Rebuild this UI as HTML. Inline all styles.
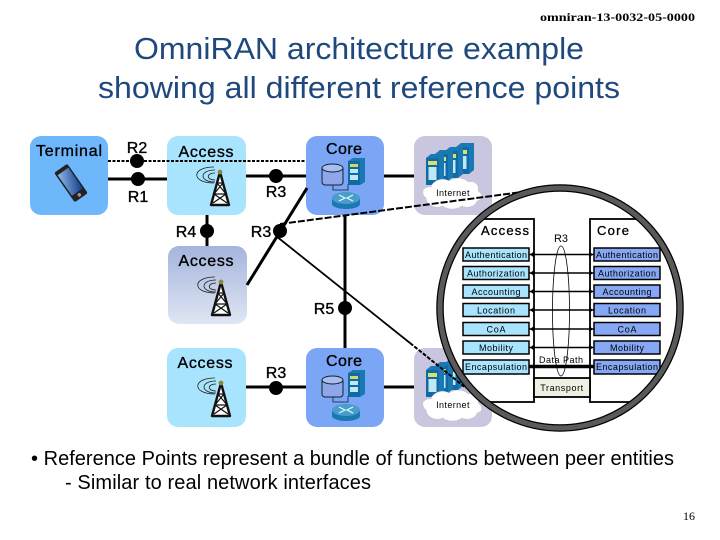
<!DOCTYPE html>
<html><head><meta charset="utf-8"><style>
html,body{margin:0;padding:0;background:#fff}
svg{display:block}
text{font-family:"Liberation Sans",sans-serif}
.n{font-size:16px;text-anchor:middle;fill:#000;stroke:#000;stroke-width:.35}
.s{font-size:9px;text-anchor:middle;fill:#000}
</style></head><body>
<svg width="720" height="540" viewBox="0 0 720 540" xmlns="http://www.w3.org/2000/svg">
<defs>
<linearGradient id="g" x1="0" y1="0" x2="0" y2="1"><stop offset="0" stop-color="#a4b5dc"/><stop offset="1" stop-color="#dfe5f3"/></linearGradient>
<linearGradient id="ph" x1="0" y1="0" x2="1" y2="1"><stop offset="0" stop-color="#8fb8e8"/><stop offset="1" stop-color="#123a8a"/></linearGradient>
<g id="tower">
<path d="M-6 -12C-29 -12 -29 4 -6 4M-5 -9C-21 -9 -21 3 -5 3M-5 -6C-14 -6 -14 1 -5 1" fill="none" stroke="#222" stroke-width=".8"/>
<path d="M0 -7L-9 26H9Z" fill="#fff" stroke="#111" stroke-width="2.4" stroke-linejoin="round"/>
<path d="M-3 4L6 15L-7 24M3 4L-6 15L7 24M-3 4H3M-6 15H6" fill="none" stroke="#111" stroke-width="1.2"/>
<circle cx="0" cy="-7" r="2.4" fill="#8a8a3a"/>
</g>
<g id="srv"><path d="M0 4L5 0H18V27L13 31H0Z" fill="#1a78b4"/><path d="M0 4H13V31H0Z" fill="#0f6aa6"/><rect x="2" y="7" width="9" height="4" fill="#d8e070"/><rect x="2.500" y="13" width="8" height="13" fill="#bfe8f4"/></g>
<g id="core">
<rect x="16" y="30" width="21" height="19" rx="3" fill="#8fa7e8" stroke="#123" stroke-width="1"/>
<ellipse cx="26.500" cy="32" rx="10.500" ry="4" fill="#a9bdf0" stroke="#123" stroke-width="1"/>
<path d="M27 49V54H42V48" fill="none" stroke="#123" stroke-width=".8"/>
<path d="M42 25L47 22H59V46L54 49H42Z" fill="#1a78b4"/><rect x="42" y="25" width="12" height="24" fill="#0f6aa6"/>
<rect x="44" y="28" width="8" height="3" fill="#d8d860"/><rect x="44" y="33" width="8" height="4" fill="#bfe8f4"/><rect x="44" y="39" width="8" height="5" fill="#bfe8f4"/>
<rect x="26" y="62" width="28" height="6" fill="#1a78b4"/><ellipse cx="40" cy="68" rx="14" ry="5" fill="#1a78b4"/><ellipse cx="40" cy="62" rx="14" ry="6" fill="#4a9ccb"/>
<path d="M33 59L39 62L33 65M47 59L41 62L47 65" fill="none" stroke="#dff" stroke-width="1.200"/>
</g>
<g id="inet">
<rect x="0" y="0" width="78" height="79" rx="11" fill="#c9c6e0"/>
<use href="#srv" x="42" y="7"/><use href="#srv" x="31" y="11"/><use href="#srv" x="21" y="14"/><use href="#srv" x="12" y="18"/>
<path d="M12 62c-6-5-3-12 5-11c2-7 12-10 18-6c5-4 15-4 19 1c6-2 12 3 10 9c5 3 5 9-1 10c-1 5-9 8-15 5c-6 4-14 4-19 0c-7 3-16 0-17-8Z" fill="#fff" stroke="#bbb" stroke-width=".6" stroke-dasharray="1.500 1"/>
<text x="39" y="60" class="s" style="letter-spacing:.4px">Internet</text>
</g>
<clipPath id="circ"><circle cx="560" cy="308" r="120"/></clipPath>
</defs>

<text x="695" y="21" text-anchor="end" style="font-family:'Liberation Serif',serif;font-size:12px;font-weight:bold" textLength="155" lengthAdjust="spacingAndGlyphs">omniran-13-0032-05-0000</text>
<text x="359" y="59" text-anchor="middle" fill="#1f497d" font-size="31" textLength="450" lengthAdjust="spacingAndGlyphs">OmniRAN architecture example</text>
<text x="359" y="98" text-anchor="middle" fill="#1f497d" font-size="31" textLength="522" lengthAdjust="spacingAndGlyphs">showing all different reference points</text>

<rect x="30" y="136" width="78" height="79" rx="11" fill="#6fb7fb"/>
<rect x="167" y="136" width="79" height="79" rx="11" fill="#a9e4fe"/>
<rect x="306" y="136" width="78" height="79" rx="11" fill="#7aa6f5"/>
<rect x="168" y="246" width="79" height="78" rx="11" fill="url(#g)"/>
<rect x="167" y="348" width="79" height="79" rx="11" fill="#a9e4fe"/>
<rect x="306" y="348" width="78" height="79" rx="11" fill="#7aa6f5"/>
<use href="#inet" x="414" y="136"/>
<use href="#inet" x="414" y="348"/>

<g transform="translate(71 183) rotate(-35)">
<rect x="-8" y="-18" width="16" height="36" rx="2" fill="#222"/><rect x="-6.500" y="-14" width="13" height="25" fill="url(#ph)"/><circle cx="0" cy="14.500" r="1.800" fill="#999"/>
</g>
<use href="#tower" x="220" y="179"/>
<use href="#tower" x="221" y="289"/>
<use href="#tower" x="221" y="390"/>
<use href="#core" x="306" y="136"/>
<use href="#core" x="306" y="348"/>

<g stroke="#000" fill="none">
<path d="M108 161H306" stroke-width="2" stroke-dasharray="3 1.500"/>
<path d="M108 179H167M246 176H306M384 176H414M207 215V246M345 215V348M246 387H306M384 387H414M307 188L247 285" stroke-width="3"/>
<path d="M280 224L522 192" stroke-width="2" stroke-dasharray="7 2"/>
<path d="M276 236L410 343" stroke-width="1.800"/>
<path d="M410 343L466 388" stroke-width="2" stroke-dasharray="4 1.500"/>
</g>
<g fill="#000">
<circle cx="137" cy="161" r="7"/><circle cx="138" cy="179" r="7"/><circle cx="276" cy="176" r="7"/><circle cx="207" cy="231" r="7"/><circle cx="280" cy="231" r="7"/><circle cx="345" cy="308" r="7"/><circle cx="276" cy="388" r="7"/>
</g>

<text x="69" y="156" class="n" textLength="66" lengthAdjust="spacing">Terminal</text>
<text x="137" y="153" class="n">R2</text>
<text x="138" y="202" class="n">R1</text>
<text x="206" y="157" class="n" textLength="55" lengthAdjust="spacing">Access</text>
<text x="344" y="154" class="n" textLength="36" lengthAdjust="spacing">Core</text>
<text x="276" y="197" class="n">R3</text>
<text x="186" y="237" class="n">R4</text>
<text x="261" y="237" class="n">R3</text>
<text x="206" y="266" class="n" textLength="55" lengthAdjust="spacing">Access</text>
<text x="324" y="314" class="n">R5</text>
<text x="205" y="368" class="n" textLength="55" lengthAdjust="spacing">Access</text>
<text x="276" y="378" class="n">R3</text>
<text x="344" y="366" class="n" textLength="36" lengthAdjust="spacing">Core</text>

<circle cx="560" cy="308" r="120" fill="#fff"/>
<g clip-path="url(#circ)">
<rect x="420" y="219" width="114" height="183" fill="#fff" stroke="#000" stroke-width="1.800"/>
<rect x="590" y="219" width="114" height="183" fill="#fff" stroke="#000" stroke-width="1.800"/>
<rect x="534" y="378" width="56" height="19" fill="#efefe3" stroke="#000" stroke-width="1.800"/>
<text x="562" y="391" class="s" style="letter-spacing:.6px">Transport</text>
<g stroke="#000" stroke-width="1.500" font-size="9">
<g fill="#a9e4fe">
<rect x="463" y="248" width="66" height="13"/><rect x="463" y="266.500" width="66" height="13"/><rect x="463" y="285" width="66" height="13"/><rect x="463" y="303.500" width="66" height="13"/><rect x="463" y="322.500" width="66" height="13"/><rect x="463" y="341" width="66" height="13"/><rect x="463" y="360" width="66" height="14"/>
</g>
<g fill="#86a8f4">
<rect x="594" y="248" width="66" height="13"/><rect x="594" y="266.500" width="66" height="13"/><rect x="594" y="285" width="66" height="13"/><rect x="594" y="303.500" width="66" height="13"/><rect x="594" y="322.500" width="66" height="13"/><rect x="594" y="341" width="66" height="13"/><rect x="594" y="360" width="66" height="14"/>
</g>
</g>
<g stroke="#000" fill="none">
<path d="M529 254.500H594M529 273H594M529 291.500H594M529 310H594M529 329H594M529 347.500H594" stroke-width="1.500"/>
<path d="M529 366.500H594" stroke-width="3.500"/>
<ellipse cx="561" cy="311" rx="8.500" ry="65" stroke-width=".8"/>
</g>
<g fill="#000">
<path d="M530 254.500l4-3v6ZM530 273l4-3v6ZM530 291.500l4-3v6ZM530 310l4-3v6ZM530 329l4-3v6ZM530 347.500l4-3v6Z"/>
<path d="M593 254.500l-4-3v6ZM593 273l-4-3v6ZM593 291.500l-4-3v6ZM593 310l-4-3v6ZM593 329l-4-3v6ZM593 347.500l-4-3v6Z"/>
</g>
<text x="496" y="258" class="s" textLength="62" lengthAdjust="spacing">Authentication</text>
<text x="496" y="276.500" class="s" textLength="58" lengthAdjust="spacing">Authorization</text>
<text x="496" y="295" class="s" textLength="49" lengthAdjust="spacing">Accounting</text>
<text x="496" y="313.500" class="s" textLength="38" lengthAdjust="spacing">Location</text>
<text x="496" y="332.500" class="s" textLength="19" lengthAdjust="spacing">CoA</text>
<text x="496" y="351" class="s" textLength="34" lengthAdjust="spacing">Mobility</text>
<text x="496" y="370" class="s" textLength="62" lengthAdjust="spacing">Encapsulation</text>
<text x="627" y="258" class="s" textLength="62" lengthAdjust="spacing">Authentication</text>
<text x="627" y="276.500" class="s" textLength="58" lengthAdjust="spacing">Authorization</text>
<text x="627" y="295" class="s" textLength="49" lengthAdjust="spacing">Accounting</text>
<text x="627" y="313.500" class="s" textLength="38" lengthAdjust="spacing">Location</text>
<text x="627" y="332.500" class="s" textLength="19" lengthAdjust="spacing">CoA</text>
<text x="627" y="351" class="s" textLength="34" lengthAdjust="spacing">Mobility</text>
<text x="627" y="370" class="s" textLength="62" lengthAdjust="spacing">Encapsulation</text>
<text x="561" y="363" class="s" textLength="44" lengthAdjust="spacing">Data Path</text>
<text x="561" y="242" class="s" style="font-size:11px">R3</text>
<text x="505" y="235" text-anchor="middle" font-size="13" stroke="#000" stroke-width=".3" textLength="48" lengthAdjust="spacing">Access</text>
<text x="613" y="235" text-anchor="middle" font-size="13" stroke="#000" stroke-width=".3" textLength="32" lengthAdjust="spacing">Core</text>
</g>
<circle cx="560" cy="308" r="120" fill="none" stroke="#000" stroke-width="7.500"/>
<circle cx="560" cy="308" r="120" fill="none" stroke="#5a5a5a" stroke-width="5"/>

<text x="31" y="465" font-size="20" textLength="643" lengthAdjust="spacing">• Reference Points represent a bundle of functions between peer entities</text>
<text x="65" y="489" font-size="20" textLength="306" lengthAdjust="spacing">- Similar to real network interfaces</text>
<text x="695" y="520" text-anchor="end" style="font-family:'Liberation Serif',serif;font-size:12px">16</text>
</svg>
</body></html>
